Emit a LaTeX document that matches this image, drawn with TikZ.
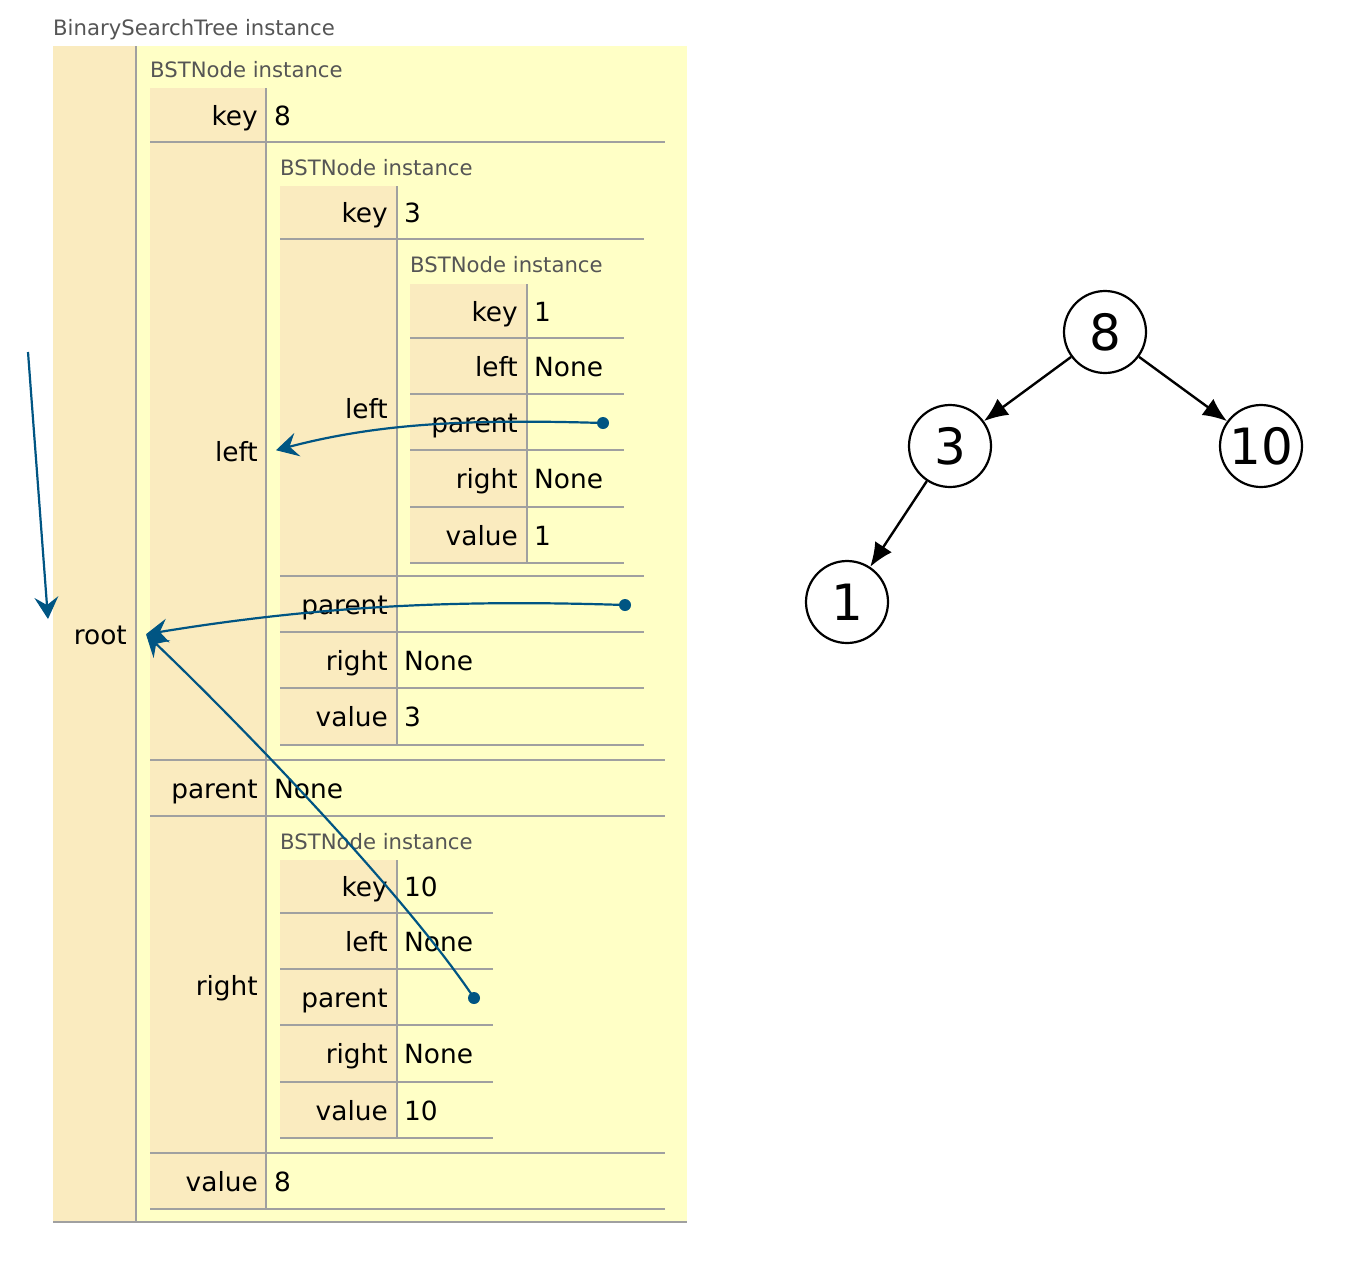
\documentclass[tikz,border=0pt]{standalone}
\usepackage{fontspec}
\setmainfont{DejaVu Sans}
\usetikzlibrary{arrows.meta}
\definecolor{keyc}{HTML}{FAEBBF}
\definecolor{valc}{HTML}{FFFFC6}
\definecolor{rulec}{HTML}{A0A0A0}
\definecolor{labc}{HTML}{555555}
\definecolor{ptrc}{HTML}{005583}
\newcommand\kfont{\fontsize{26.4}{31}\selectfont}
\newcommand\lfont{\fontsize{21.2}{25}\selectfont}
\newcommand\tfont{\fontsize{50}{60}\selectfont}
\tikzset{
  tancol/.style={fill=keyc},
  rowrule/.style={draw=rulec, line width=1.4pt},
  typelab/.style={anchor=base west, inner sep=0pt, text=labc, font=\lfont},
  keytxt/.style={anchor=base east, inner sep=0pt, font=\kfont},
  valtxt/.style={anchor=base west, inner sep=0pt, font=\kfont},
  objbox/.style={anchor=north west, inner sep=0pt, minimum width=10pt},
  ptrdot/.style={circle, fill=ptrc, inner sep=0pt, minimum size=12pt},
  ptr/.style={draw=ptrc, line width=2.2pt, -{Stealth[length=22pt, width=24pt, inset=8pt, line width=1pt]}},
  tnode/.style={circle, draw, line width=2.2pt, minimum size=82pt, inner sep=0pt, font=\tfont},
  tedge/.style={draw, line width=2.4pt, -{Latex[length=24pt, width=20pt]}}
}
\begin{document}
\begin{tikzpicture}[x=1pt, y=-1pt]
\useasboundingbox (0,0) rectangle (1351,1267);
\fill[white] (0,0) rectangle (1351,1267);

% ---------- BinarySearchTree instance ----------
\node[typelab] (bstlab) at (53,35) {BinarySearchTree instance};
\fill[keyc] (53,46) rectangle (136,1222);
\fill[valc] (136,46) rectangle (687,1222);
\draw[rowrule] (136,46) -- (136,1222);
\draw[rowrule] (53,1222) -- (687,1222);
\node[keytxt] (kroot) at (127,644) {root};

% ---------- BSTNode 8 ----------
\node[typelab] (lab8) at (150,77) {BSTNode instance};
\fill[tancol] (150,88) rectangle (265,1209);
\draw[rowrule] (266,88) -- (266,1209);
\foreach \yy in {142,760,816,1153,1209} \draw[rowrule] (150,\yy) -- (665,\yy);
\node[keytxt] (k8key) at (258,125) {key};
\node[valtxt] (v8key) at (274,125) {8};
\node[keytxt] (k8left) at (258,461) {left};
\node[keytxt] (k8par) at (258,798) {parent};
\node[valtxt] (v8par) at (274,798) {None};
\node[keytxt] (k8right) at (258,995) {right};
\node[keytxt] (k8val) at (258,1191) {value};
\node[valtxt] (v8val) at (274,1191) {8};
\node[objbox, minimum height=1152pt] (obj8) at (146,58) {};

% ---------- BSTNode 3 ----------
\node[typelab] (lab3) at (280,175) {BSTNode instance};
\fill[tancol] (280,186) rectangle (396,745);
\draw[rowrule] (397,186) -- (397,745);
\foreach \yy in {239,576,632,688,745} \draw[rowrule] (280,\yy) -- (644,\yy);
\node[keytxt] (k3key) at (388,222) {key};
\node[valtxt] (v3key) at (404,222) {3};
\node[keytxt] (k3left) at (388,418) {left};
\node[keytxt] (k3par) at (388,614) {parent};
\node[keytxt] (k3right) at (388,670) {right};
\node[valtxt] (v3right) at (404,670) {None};
\node[keytxt] (k3val) at (388,726) {value};
\node[valtxt] (v3val) at (404,726) {3};
\node[objbox, minimum height=590pt] (obj3) at (276,155) {};

% ---------- BSTNode 1 ----------
\node[typelab] (lab1) at (410,272) {BSTNode instance};
\fill[tancol] (410,284) rectangle (526,563);
\draw[rowrule] (527,284) -- (527,563);
\foreach \yy in {338,394,450,507,563} \draw[rowrule] (410,\yy) -- (624,\yy);
\node[keytxt] (k1key) at (518,321) {key};
\node[valtxt] (v1key) at (534,321) {1};
\node[keytxt] (k1left) at (518,376) {left};
\node[valtxt] (v1left) at (534,376) {None};
\node[keytxt] (k1par) at (518,432) {parent};
\node[keytxt] (k1right) at (518,488) {right};
\node[valtxt] (v1right) at (534,488) {None};
\node[keytxt] (k1val) at (518,545) {value};
\node[valtxt] (v1val) at (534,545) {1};

% ---------- BSTNode 10 ----------
\node[typelab] (lab10) at (280,849) {BSTNode instance};
\fill[tancol] (280,860) rectangle (396,1138);
\draw[rowrule] (397,860) -- (397,1138);
\foreach \yy in {913,969,1025,1082,1138} \draw[rowrule] (280,\yy) -- (493,\yy);
\node[keytxt] (k10key) at (388,896) {key};
\node[valtxt] (v10key) at (404,896) {10};
\node[keytxt] (k10left) at (388,951) {left};
\node[valtxt] (v10left) at (404,951) {None};
\node[keytxt] (k10par) at (388,1007) {parent};
\node[keytxt] (k10right) at (388,1063) {right};
\node[valtxt] (v10right) at (404,1063) {None};
\node[keytxt] (k10val) at (388,1120) {value};
\node[valtxt] (v10val) at (404,1120) {10};

% ---------- pointers ----------
\coordinate (stubA) at (28,352);
\coordinate (stubB) at (48,619);
\draw[ptr] (stubA) -- (stubB);

\node[ptrdot] (d1) at (603,423) {};
\node[ptrdot] (d3) at (625,605) {};
\node[ptrdot] (d10) at (474,998) {};
\draw[ptr] (d1.center) .. controls (470,419) and (380,423) .. (obj3.west);
\draw[ptr] (d3.center) .. controls (470,600) and (330,604) .. (obj8.west);
\draw[ptr] (d10.center) .. controls (405,895) and (242,726) .. (obj8.west);

% ---------- tree ----------
\node[tnode] (t8) at (1105,332) {8};
\node[tnode] (t3) at (950,446) {3};
\node[tnode] (t10) at (1261,446) {10};
\node[tnode] (t1) at (847,602) {1};
\draw[tedge] (t8) -- (t3);
\draw[tedge] (t8) -- (t10);
\draw[tedge] (t3) -- (t1);
\end{tikzpicture}
\end{document}
